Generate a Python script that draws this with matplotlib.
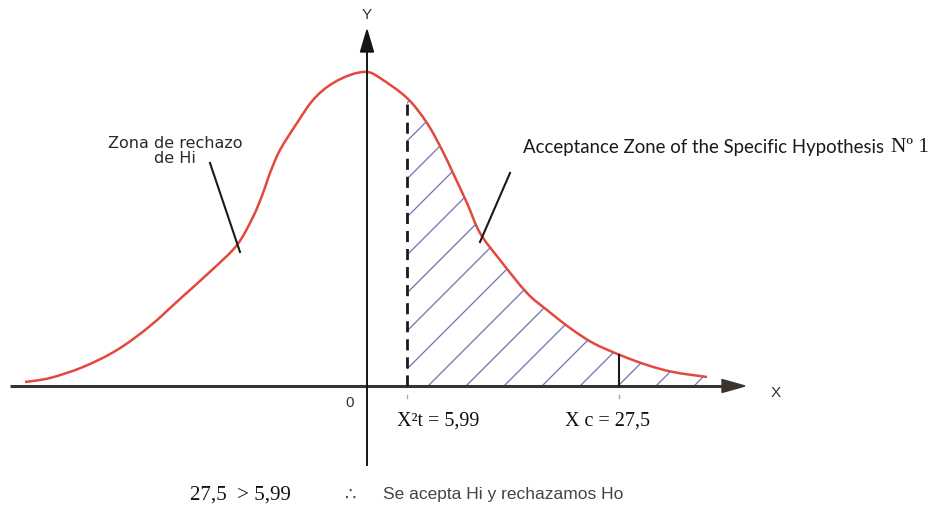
import matplotlib.pyplot as plt
import numpy as np
from matplotlib.path import Path
from matplotlib.patches import PathPatch

# curve (origin at the Y axis / X axis crossing)
curve_x = [-342, -317, -284, -250, -217, -186, -154, -130, -114, -104, -97, -87,
           -70, -54, -37, -17, 0, 13, 40, 60, 75, 86, 100, 113, 133, 160,
           180, 203, 226, 253, 280, 306, 340]
curve_y = [4, 8, 19, 36, 60, 88, 117, 141, 169, 193, 213, 236,
           263, 286, 301, 311, 314, 308, 288, 263, 236, 213, 183, 153, 126, 93,
           76, 58, 43, 31, 21, 14, 9]

t_idx = 18     # X²t = 5,99 sits at curve_x[18]
x_calc = 252   # Xc = 27,5
t_label = "X²t = 5,99"
c_label = "X c = 27,5"

AXIS = '#3a3430'
RED = '#e5473c'
HATCH = '#7272b0'


def smooth_segments(xs, ys, start=0):
    # catmull-rom through the read points, as cubic bezier pieces
    pts = np.column_stack([xs, ys]).astype(float)
    n = len(pts)
    verts, codes = [], []
    for i in range(start, n - 1):
        p0 = pts[max(i - 1, 0)]
        p1 = pts[i]
        p2 = pts[i + 1]
        p3 = pts[min(i + 2, n - 1)]
        verts += [p1 + (p2 - p0) / 6, p2 - (p3 - p1) / 6, p2]
        codes += [Path.CURVE4] * 3
    return verts, codes


fig = plt.figure(figsize=(9.41, 5.24), dpi=100)
ax = fig.add_axes([0, 0, 1, 1])
ax.set_xlim(-367, 574)
ax.set_ylim(-138, 386)
ax.axis('off')

t_crit = curve_x[t_idx]
top_t = curve_y[t_idx]

# hatched acceptance region, clipped to the area under the curve
v, c = smooth_segments(curve_x, curve_y, t_idx)
reg_verts = [(t_crit, 0), (t_crit, top_t)] + v + [(curve_x[-1], 0), (t_crit, 0)]
reg_codes = [Path.MOVETO, Path.LINETO] + c + [Path.LINETO, Path.CLOSEPOLY]
region = PathPatch(Path(reg_verts, reg_codes), facecolor='none', edgecolor='none')
ax.add_patch(region)
for x0 in range(61 - 38 * 8, 400, 38):
    hl, = ax.plot([x0, x0 + 400], [0, 400], color=HATCH, lw=0.9)
    hl.set_clip_path(region)

# axes with arrows
ax.plot([-357, 358], [0, 0], color=AXIS, lw=2.2, solid_capstyle='butt')
ax.fill([355, 378, 355], [-6.5, 0, 6.5], color=AXIS)
ax.plot([0, 0], [-79, 338], color='#151515', lw=1.4)
ax.fill([-6.5, 0, 6.5], [334, 356, 334], color='#151515')

# density curve
v, c = smooth_segments(curve_x, curve_y)
curve = PathPatch(Path([(curve_x[0], curve_y[0])] + v, [Path.MOVETO] + c),
                  facecolor='none', edgecolor=RED, lw=1.8)
ax.add_patch(curve)

# critical value lines
ax.plot([t_crit, t_crit], [0, top_t], color='#1a1a1a', lw=2, linestyle=(0, (4, 2.5)))
ax.plot([x_calc, x_calc], [0, np.interp(x_calc, curve_x, curve_y)], color='#1a1a1a', lw=1.5)
for xm in (t_crit, x_calc):
    ax.plot([xm, xm], [-9, -12], color='#aaaaaa', lw=1)

# axis labels
ax.text(0, 371, "Y", ha='center', va='center', fontsize=11, color='#333333',
        family='Liberation Sans')
ax.text(409, -7, "X", ha='center', va='center', fontsize=11, color='#333333',
        family='Liberation Sans')
ax.text(-17, -17, "0", ha='center', va='center', fontsize=11, color='#333333',
        family='Liberation Sans')

# annotations
ax.plot([-157, -127], [223, 134], color='#1a1a1a', lw=1.5)
ax.text(-192, 235, "Zona de rechazo\nde Hi", ha='center', va='center', fontsize=11.5,
        color='#2a2a2a', family='DejaVu Sans', linespacing=1.0)
ax.plot([143, 113], [213, 144], color='#1a1a1a', lw=1.5)
ax.text(156, 239, "Acceptance Zone of the Specific Hypothesis", ha='left', va='center',
        fontsize=13.4, color='#1a1a1a', family='Lato')
ax.text(524, 239, "Nº 1", ha='left', va='center', fontsize=15.5,
        color='#1a1a1a', family='Liberation Serif')

ax.text(30, -35, t_label, ha='left', va='center', fontsize=14.5, color='#111111',
        family='Liberation Serif')
ax.text(198, -35, c_label, ha='left', va='center', fontsize=14.5, color='#111111',
        family='Liberation Serif')

ax.text(-177, -109, "27,5  > 5,99", ha='left', va='center', fontsize=15, color='#111111',
        family='Liberation Serif')
ax.text(-16, -109, "∴", ha='center', va='center', fontsize=13, color='#444444',
        family='DejaVu Sans')
ax.text(16, -109, "Se acepta Hi y rechazamos Ho", ha='left', va='center', fontsize=12.5,
        color='#444444', family='Liberation Sans')

fig.savefig('out.png', dpi=100, facecolor='white')
